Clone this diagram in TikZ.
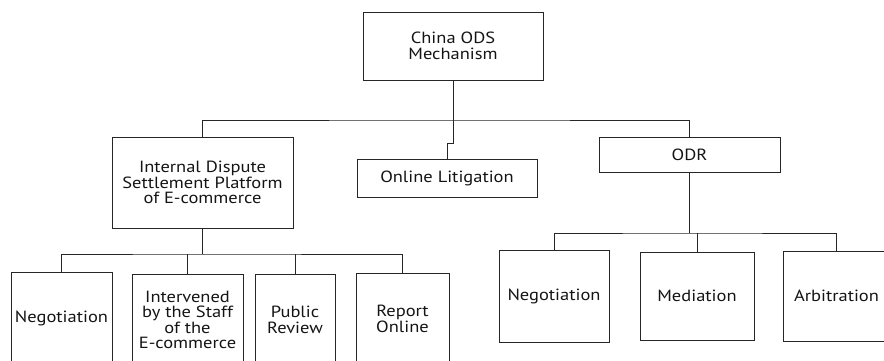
\documentclass[tikz,border=0pt]{standalone}
\usepackage{fontspec}
\setmainfont{PT Sans}[FakeStretch=1.14]
\begin{document}
\begin{tikzpicture}[x=1pt,y=-1pt,
  every node/.style={font=\fontsize{16.2}{15.5}\selectfont,text=black!92},
  box/.style={draw=black!85,line width=0.8pt,rectangle,align=center,inner sep=0pt},
  link/.style={draw=black!85,line width=0.8pt}]
  \useasboundingbox (0,0) rectangle (884,360);
  \clip (0,0) rectangle (884,360);

  \node[box,minimum width=180,minimum height=68] (top) at (453,46) {China ODS\\Mechanism};

  \node[box,minimum width=181,minimum height=91] (ids) at (202.5,182.5) {Internal Dispute\\Settlement Platform\\of E-commerce};
  \node[box,minimum width=180,minimum height=38] (lit) at (447,178) {Online Litigation};
  \node[box,minimum width=181,minimum height=35] (odr) at (689.5,154.5) {ODR};

  \node[box,minimum width=101,minimum height=92] (neg1) at (61.5,318) {Negotiation};
  \node[box,minimum width=111,minimum height=92] (staff) at (187.5,320) {Intervened\\by the Staff\\of the\\E-commerce};
  \node[box,minimum width=80,minimum height=92] (review) at (295,320) {Public\\Review};
  \node[box,minimum width=93,minimum height=92] (report) at (402.5,319) {Report\\Online};

  \node[box,minimum width=110,minimum height=92] (neg2) at (554,296) {Negotiation};
  \node[box,minimum width=114,minimum height=88] (med) at (697,296) {Mediation};
  \node[box,minimum width=107,minimum height=90] (arb) at (836.5,296) {Arbitration};

  \coordinate (bus1) at (453,120);
  \coordinate (jog) at (453,143);
  \coordinate (bus2) at (202.5,254);
  \coordinate (bus3) at (689.5,233);

  \draw[link] (top) -- (bus1);
  \draw[link] (ids.north) |- (bus1) -| (odr.north);
  \draw[link] (bus1) -- (jog) -| (lit.north);

  \draw[link] (ids) -- (bus2);
  \draw[link] (neg1.north) |- (bus2) -| (report.north);
  \draw[link] (staff.north) -- (staff.north |- bus2);
  \draw[link] (review.north) -- (review.north |- bus2);

  \draw[link] (odr) -- (bus3);
  \draw[link] (neg2.north) |- (bus3) -| (arb.north);
  \draw[link] (med.north) -- (med.north |- bus3);
\end{tikzpicture}
\end{document}
